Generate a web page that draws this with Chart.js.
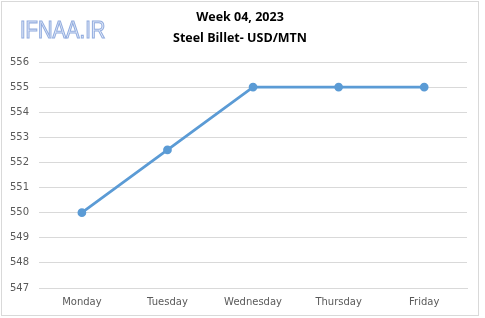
<!DOCTYPE html>
<html>
<head>
<meta charset="utf-8">
<script src="https://cdn.jsdelivr.net/npm/chart.js@4"></script>
<style>
  html, body { margin: 0; padding: 0; background: #fff; }
  #wrap { width: 485px; height: 318px; position: relative; }
</style>
</head>
<body>
<div id="wrap"><canvas id="readings" width="485" height="318"></canvas></div>
<script>
const ctx = 'readings';

const days = ['Monday', 'Tuesday', 'Wednesday', 'Thursday', 'Friday'];
const prices = [550, 552.5, 555, 555, 555];
const titleLines = ['Week 04, 2023', 'Steel Billet- USD/MTN'];
const yMin = 547;
const yMax = 556;

// frame, title and watermark drawn on the canvas
const frame = {
    id: 'frame',
    beforeDraw(chart) {
        const c = chart.ctx;
        c.save();
        c.fillStyle = '#fff';
        c.fillRect(0, 0, chart.width, chart.height);
        c.strokeStyle = '#d9d9d9';
        c.lineWidth = 1;
        c.strokeRect(1.5, 1.5, 477, 314);
        c.restore();
    },
    afterDraw(chart) {
        const c = chart.ctx;
        c.save();
        c.fillStyle = '#000';
        c.font = 'bold 12.5px "Open Sans"';
        c.textAlign = 'center';
        c.textBaseline = 'middle';
        c.fillText(titleLines[0], 240, 17);
        c.fillText(titleLines[1], 240, 38);
        c.restore();

        c.save();
        c.translate(20, 38);
        c.scale(0.92, 1.05);
        c.font = '22px "Liberation Sans"';
        c.lineWidth = 1.1;
        c.strokeStyle = '#93addf';
        c.fillStyle = '#e8eefa';
        c.fillText('IFNAA.IR', 0, 0);
        c.strokeText('IFNAA.IR', 0, 0);
        c.restore();
    }
};

let chart = new Chart(ctx, {
    type: 'line',
    data: {
        labels: days,
        datasets: [{
            label: 'Price',
            data: prices,
            borderColor: '#5b9bd5',
            backgroundColor: '#5b9bd5',
            borderWidth: 2.75,
            pointRadius: 3,
            pointHoverRadius: 3,
            tension: 0
        }]
    },
    options: {
        responsive: false,
        animation: false,
        layout: { padding: { left: 0, right: 18, top: 62, bottom: 2 } },
        plugins: {
            legend: { display: false },
            tooltip: { enabled: false },
            title: { display: false }
        },
        scales: {
            x: {
                offset: true,
                grid: { display: false, drawTicks: false },
                border: { display: true, color: '#d9d9d9' },
                ticks: { color: '#595959', font: { family: '"DejaVu Sans"', size: 10 }, padding: 8, maxRotation: 0 }
            },
            y: {
                min: yMin,
                max: yMax,
                ticks: { stepSize: 1, color: '#595959', font: { family: '"DejaVu Sans"', size: 10 }, padding: 10 },
                grid: { color: '#d9d9d9', drawTicks: false },
                border: { display: false }
            }
        }
    },
    plugins: [frame]
});
</script>
</body>
</html>
